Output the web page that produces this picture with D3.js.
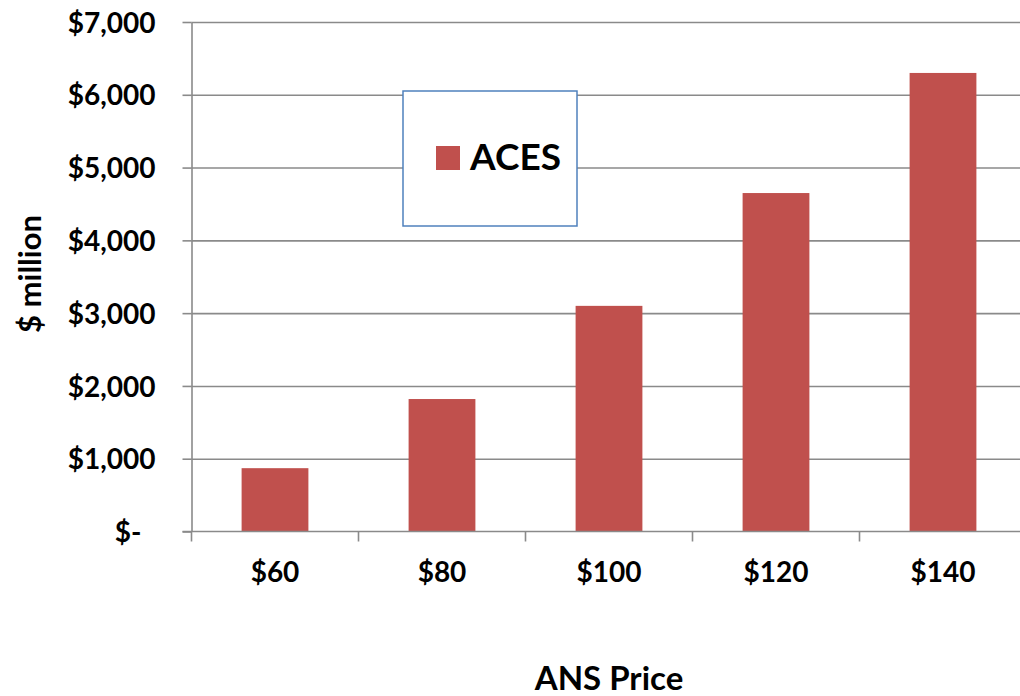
<!DOCTYPE html>
<html>
<head>
<meta charset="utf-8">
<script src="https://cdn.jsdelivr.net/npm/d3@7"></script>
<style>
	html, body { margin: 0; padding: 0; background: #fff; }
	svg { display: block; font-family: Lato, "Open Sans", sans-serif; font-weight: bold; }
</style>
</head>
<body>
<svg id="chart"></svg>
<script>
;(() => {
	'use strict';

	// chart data
	const categories = ['$60', '$80', '$100', '$120', '$140'],
		acesValues = [870, 1820, 3100, 4650, 6300],
		yTickValues = [0, 1000, 2000, 3000, 4000, 5000, 6000, 7000],
		seriesName = 'ACES',
		yTitle = '$ million',
		xTitle = 'ANS Price';

	const width = 1020,
		height = 696,
		plotLeft = 191.5,
		plotRight = 1026.5,
		plotTop = 22,
		plotBottom = 531.5,
		fontFamily = 'Lato, "Open Sans", sans-serif',
		barColor = '#c0504d',
		gridColor = '#8a8a8a';

	const svg = d3.select('#chart')
		.attr('width', width)
		.attr('height', height);

	svg.append('rect')
		.attr('width', width)
		.attr('height', height)
		.attr('fill', '#fff');

	const x = d3.scaleBand().domain(categories).range([plotLeft, plotRight]).padding(0),
		y = d3.scaleLinear().domain([0, 7000]).range([plotBottom, plotTop]);

	const fmt = d3.format(',');
	const yLabel = function(d) {
		return d === 0 ? '$-' : '$' + fmt(d);
	};

	// gridlines
	svg.append('g')
		.attr('transform', `translate(${plotLeft},0)`)
		.call(d3.axisLeft(y).tickValues(yTickValues.slice(1)).tickSize(-(plotRight - plotLeft)).tickFormat(''))
		.call(g => g.select('.domain').remove())
		.call(g => g.selectAll('line').attr('stroke', gridColor).attr('stroke-width', 1.6));

	// bars
	const barW = x.bandwidth() * 0.4;
	svg.append('g').selectAll('rect')
		.data(acesValues)
		.enter()
		.append('rect')
		.attr('x', (d, i) => x(categories[i]) + (x.bandwidth() - barW) / 2)
		.attr('y', d => y(d))
		.attr('width', barW)
		.attr('height', d => y(0) - y(d))
		.attr('fill', barColor);

	// y axis
	const yAxis = svg.append('g')
		.attr('transform', `translate(${plotLeft},0)`)
		.call(d3.axisLeft(y).tickValues(yTickValues).tickSize(9).tickSizeOuter(0).tickPadding(27).tickFormat(yLabel))
		.attr('font-family', fontFamily)
		.attr('font-size', 28);
	yAxis.select('.domain').attr('stroke', gridColor).attr('stroke-width', 1.6);
	yAxis.selectAll('line').attr('stroke', gridColor).attr('stroke-width', 1.6);
	yAxis.selectAll('text')
		.attr('fill', '#000')
		.attr('dy', '0.36em')
		.attr('dx', d => d === 0 ? -14 : 0);

	// x axis: labels at band centres, ticks on band edges
	const xAxis = svg.append('g')
		.attr('transform', `translate(0,${plotBottom})`)
		.call(d3.axisBottom(x).tickSize(0).tickPadding(31))
		.attr('font-family', fontFamily)
		.attr('font-size', 28);
	xAxis.select('.domain').remove();
	xAxis.selectAll('text')
		.attr('fill', '#000');

	const edges = categories.map(c => x(c));
	svg.append('line')
		.attr('x1', plotLeft - 9).attr('x2', plotRight)
		.attr('y1', plotBottom).attr('y2', plotBottom)
		.attr('stroke', gridColor).attr('stroke-width', 1.6);
	svg.append('g').selectAll('line')
		.data(edges)
		.enter()
		.append('line')
		.attr('x1', d => d).attr('x2', d => d)
		.attr('y1', plotBottom).attr('y2', plotBottom + 10)
		.attr('stroke', gridColor).attr('stroke-width', 1.6);

	// axis titles
	svg.append('text')
		.attr('transform', `translate(41,274) rotate(-90)`)
		.attr('text-anchor', 'middle')
		.style('font-size', '31px')
		.text(yTitle);

	svg.append('text')
		.attr('x', (plotLeft + plotRight) / 2)
		.attr('y', 690)
		.attr('text-anchor', 'middle')
		.style('font-size', '33px')
		.text(xTitle);

	// legend
	const legend = svg.append('g');
	legend.append('rect')
		.attr('x', 403).attr('y', 91)
		.attr('width', 174).attr('height', 135)
		.attr('fill', '#fff')
		.attr('stroke', '#4f81bd')
		.attr('stroke-width', 1.5);
	legend.append('rect')
		.attr('x', 436).attr('y', 146)
		.attr('width', 24).attr('height', 24)
		.attr('fill', barColor);
	legend.append('text')
		.attr('x', 470).attr('y', 170)
		.style('font-size', '37px')
		.text(seriesName);

})();
</script>
</body>
</html>
